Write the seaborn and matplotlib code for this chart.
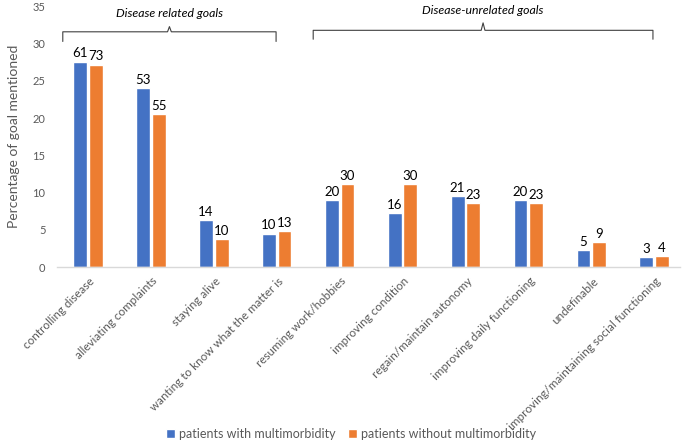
import matplotlib
matplotlib.use("Agg")
import matplotlib.pyplot as plt
import matplotlib.transforms as mtrans
import seaborn as sns
import pandas as pd

categories = ["controlling disease", "alleviating complaints", "staying alive",
              "wanting to know what the matter is", "resuming work/hobbies",
              "improving condition", "regain/maintain autonomy",
              "improving daily functioning", "undefinable",
              "improving/maintaining social functioning"]
series_names = ["patients with multimorbidity", "patients without multimorbidity"]
pct_with = [27.6, 24.0, 6.3, 4.5, 9.05, 7.2, 9.5, 9.05, 2.25, 1.35]
pct_without = [27.2, 20.5, 3.7, 4.85, 11.2, 11.2, 8.6, 8.6, 3.35, 1.5]
count_with = [61, 53, 14, 10, 20, 16, 21, 20, 5, 3]
count_without = [73, 55, 10, 13, 30, 30, 23, 23, 9, 4]
groups = ["Disease related goals", "Disease-unrelated goals"]
yticks = [0, 5, 10, 15, 20, 25, 30, 35]

colors = ["#4472C4", "#ED7D31"]
gray = "#595959"

df = pd.DataFrame({
    "goal": categories * 2,
    "pct": pct_with + pct_without,
    "group": [series_names[0]] * len(categories) + [series_names[1]] * len(categories),
})

sns.set_theme(style="white")
plt.rcParams["font.family"] = ["Lato", "DejaVu Sans"]

fig = plt.figure(figsize=(6.85, 4.47), dpi=100)
ax = fig.add_axes([56.5 / 685, 1 - 267 / 447, (680 - 56.5) / 685, (267 - 6.5) / 447])

sns.barplot(data=df, x="goal", y="pct", hue="group", palette=colors,
            width=0.5, gap=0.12, ax=ax, legend=True, saturation=1)

for cont, counts in zip(ax.containers, [count_with, count_without]):
    ax.bar_label(cont, labels=[str(c) for c in counts], padding=1.5,
                 fontsize=9.5, color="black")

ax.set_ylim(0, 35)
ax.set_xlim(-0.5, 9.41)
ax.set_yticks(yticks)
ax.set_yticklabels([str(t) for t in yticks], fontsize=8, color=gray)
ax.tick_params(axis="y", length=0, pad=8)
ax.tick_params(axis="x", length=0, pad=6)
ax.set_xticks(range(len(categories)))
ax.set_xticklabels(categories, rotation=45, ha="right", va="top",
                   rotation_mode="anchor", fontsize=8.4, color=gray)
for lab in ax.get_xticklabels():
    lab.set_transform(lab.get_transform() + mtrans.ScaledTranslation(1 / 100, 0, fig.dpi_scale_trans))
ax.set_xlabel("")
ax.set_ylabel("Percentage of goal mentioned", fontsize=10, color=gray, labelpad=9)

for s in ["top", "right", "left"]:
    ax.spines[s].set_visible(False)
ax.spines["bottom"].set_color("#D9D9D9")
ax.spines["bottom"].set_linewidth(1)

# braces
def brace(x0, x1, yh, yend, ytip, ytext, text):
    xm = (x0 + x1) / 2
    kw = dict(color="#404040", lw=0.8, clip_on=False)
    ax.plot([x0, x0, xm - 0.03, xm, xm + 0.03, x1, x1],
            [yend, yh, yh, ytip, yh, yh, yend], **kw)
    ax.text(xm, ytext, text, ha="center", va="center", fontsize=8.8,
            style="italic", color="black")

brace(-0.4, 2.99, 31.6, 30.3, 32.3, 34.1, groups[0])
brace(3.58, 8.98, 31.8, 30.6, 32.8, 34.4, groups[1])

leg = ax.legend(loc="lower center", bbox_to_anchor=(351 / 685, 0.0),
                bbox_transform=fig.transFigure, ncol=2, frameon=False,
                fontsize=9.0, handlelength=0.75, handleheight=0.75,
                handletextpad=0.3, columnspacing=1.0, borderaxespad=0.15)
for t in leg.get_texts():
    t.set_color(gray)

fig.savefig("out.png", dpi=100)
